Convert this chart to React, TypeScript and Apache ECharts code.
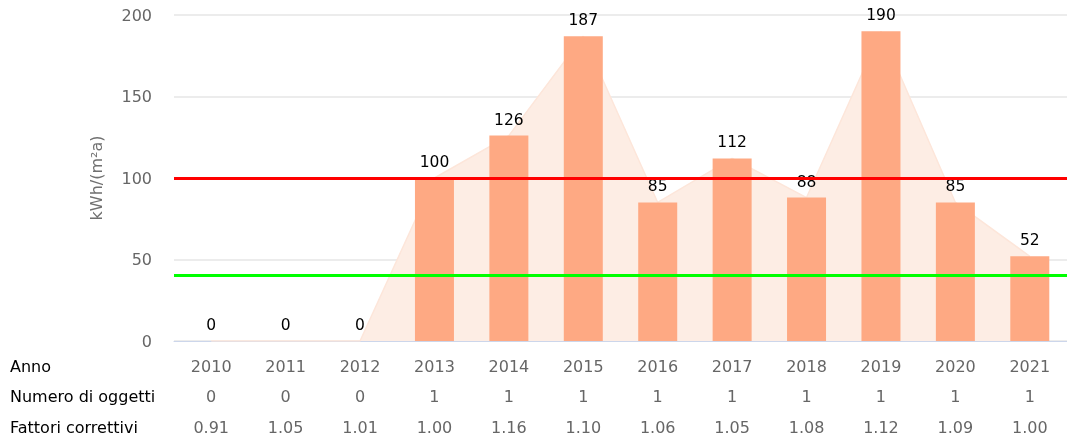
import React, { useEffect, useRef } from "react";
import * as echarts from "echarts";

const years = ["2010", "2011", "2012", "2013", "2014", "2015", "2016", "2017", "2018", "2019", "2020", "2021"];
const values = [0, 0, 0, 100, 126, 187, 85, 112, 88, 190, 85, 52];
const objectCounts = ["0", "0", "0", "1", "1", "1", "1", "1", "1", "1", "1", "1"];
const factors = ["0.91", "1.05", "1.01", "1.00", "1.16", "1.10", "1.06", "1.05", "1.08", "1.12", "1.09", "1.00"];
const rowTitles = ["Anno", "Numero di oggetti", "Fattori correttivi"];
const redLimit = 100;
const greenLimit = 40.5;
const yTicks = { min: 0, max: 200, interval: 50 };
const yName = "kWh/(m²a)";

const FONT = "DejaVu Sans";

export default function App() {
  const ref = useRef<HTMLDivElement>(null);
  useEffect(() => {
    if (!ref.current) return;
    const chart = echarts.init(ref.current, null, { renderer: "svg" });
    chart.setOption({
      animation: false,
      textStyle: { fontFamily: FONT },
      grid: { left: 174, right: 0, top: 15, bottom: 100 },
      xAxis: {
        type: "category",
        data: years,
        axisLine: { lineStyle: { color: "#ccd6eb", width: 1 } },
        axisTick: { show: false },
        axisLabel: {
          margin: 10,
          interval: 0,
          formatter: (v: string, i: number) => `{a|${v}}\n{a|${objectCounts[i]}}\n{a|${factors[i]}}`,
          rich: {
            a: { fontFamily: FONT, fontSize: 16, color: "#666666", lineHeight: 30.5 },
          },
        },
      },
      yAxis: {
        type: "value",
        min: yTicks.min,
        max: yTicks.max,
        interval: yTicks.interval,
        name: yName,
        nameLocation: "middle",
        nameGap: 70,
        nameTextStyle: { fontFamily: FONT, fontSize: 16, color: "#707070" },
        axisLabel: { fontFamily: FONT, fontSize: 16, color: "#666666", margin: 22 },
        splitLine: { lineStyle: { color: "#e6e6e6", width: 1.5 } },
        axisLine: { show: false },
        axisTick: { show: false },
      },
      graphic: rowTitles.map((t, i) => ({
        type: "text",
        x: 10,
        y: 366 + i * 30.5,
        style: { text: t, fontFamily: FONT, fontSize: 16, fill: "#000000", verticalAlign: "middle" },
      })),
      series: [
        {
          type: "line",
          data: values,
          symbol: "none",
          lineStyle: { color: "#fde6da", width: 1.5 },
          areaStyle: { color: "#fdede4", opacity: 1 },
          z: 1,
          silent: true,
        },
        {
          type: "bar",
          data: values,
          barWidth: 39,
          itemStyle: { color: "#fea983" },
          label: {
            show: true,
            position: "top",
            distance: 8,
            fontFamily: FONT,
            fontSize: 15.5,
            color: "#000000",
          },
          z: 2,
          markLine: {
            symbol: "none",
            silent: true,
            label: { show: false },
            data: [
              { yAxis: redLimit, lineStyle: { color: "#ff0000", width: 3, type: "solid" } },
              { yAxis: greenLimit, lineStyle: { color: "#00ff00", width: 3, type: "solid" } },
            ],
          },
        },
      ],
    });
    return () => chart.dispose();
  }, []);
  return <div ref={ref} style={{ position: "fixed", left: 0, top: 0, width: 1067, height: 441 }} />;
}
